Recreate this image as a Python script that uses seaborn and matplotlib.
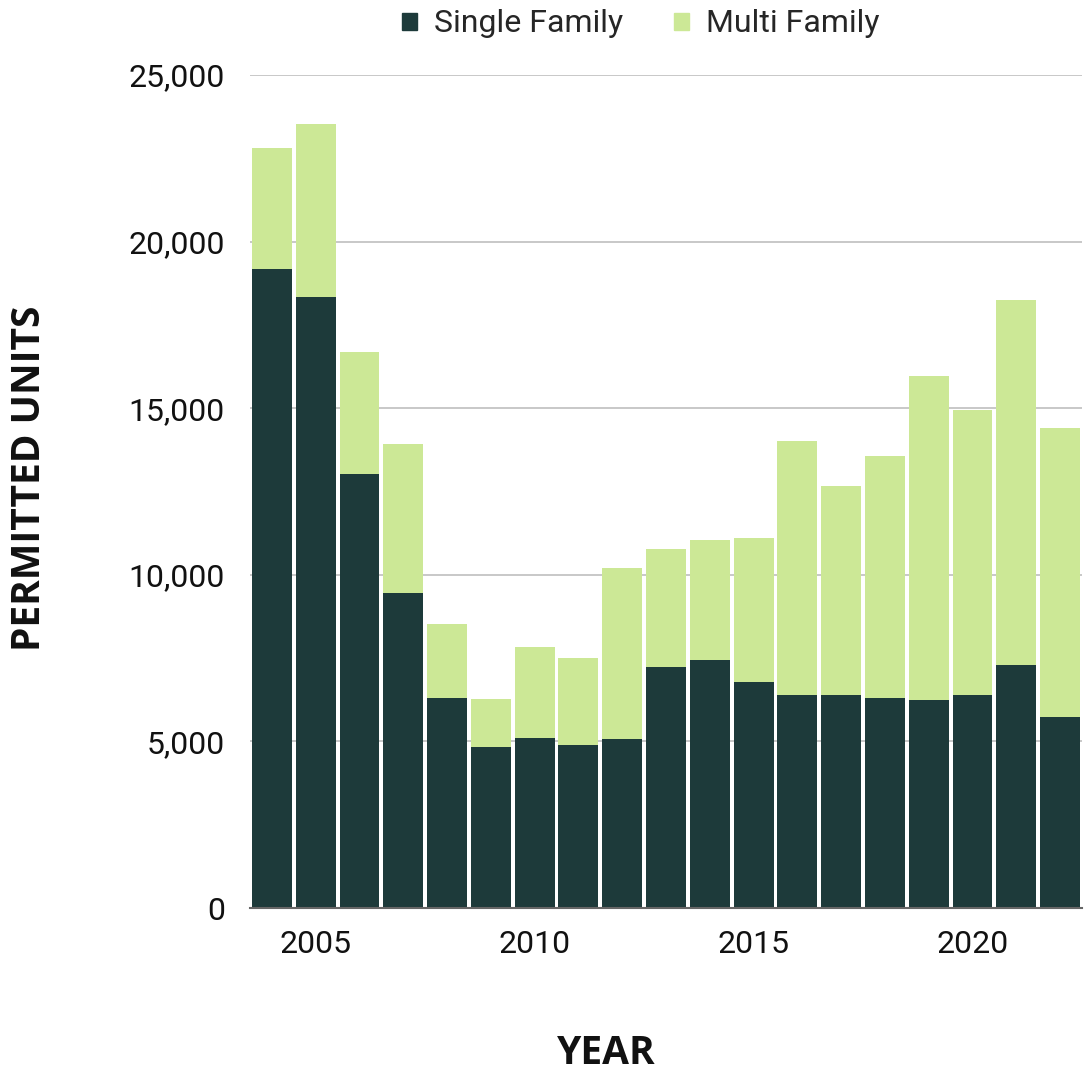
import matplotlib
matplotlib.use("Agg")
import matplotlib.pyplot as plt
import seaborn as sns
import pandas as pd
import numpy as np
from matplotlib.ticker import FuncFormatter
from matplotlib.patches import Patch

years = list(range(2004, 2023))
single_family = [19180, 18340, 13020, 9450, 6300, 4830, 5100, 4890, 5070, 7230,
                 7440, 6780, 6390, 6390, 6300, 6240, 6390, 7290, 5730]
total_units = [22810, 23530, 16690, 13930, 8520, 6270, 7830, 7500, 10200, 10770,
               11040, 11100, 14020, 12670, 13570, 15970, 14950, 18250, 14410]
multi_family = [t - s for t, s in zip(total_units, single_family)]
tick_years = [2005, 2010, 2015, 2020]
y_ticks = [0, 5000, 10000, 15000, 20000, 25000]

dark = "#1d3a3a"
light = "#cce896"

df = pd.DataFrame({"year": years, "single": single_family, "total": total_units})

sns.set_theme(style="white")
plt.rcParams["font.family"] = ["Roboto", "DejaVu Sans"]

fig = plt.figure(figsize=(10.9, 10.78), dpi=100)
ax = fig.add_axes([250/1090, 1 - 908/1078, (1082-250)/1090, (908-75)/1078])

sns.barplot(data=df, x="year", y="total", color=light, width=0.91, ax=ax,
            saturation=1, linewidth=0)
sns.barplot(data=df, x="year", y="single", color=dark, width=0.91, ax=ax,
            saturation=1, linewidth=0)

ax.set_ylim(0, 25000)
ax.set_xlim(-0.5, len(years) - 0.5)
ax.set_yticks(y_ticks)
ax.yaxis.set_major_formatter(FuncFormatter(lambda v, p: f"{int(v):,}"))
ax.set_xticks([years.index(y) for y in tick_years])
ax.set_xticklabels([str(y) for y in tick_years])
ax.tick_params(axis="both", labelsize=23, colors="#111111", length=0)
ax.tick_params(axis="x", pad=16)
ax.tick_params(axis="y", pad=18)

ax.grid(axis="y", color="#c4c4c4", linewidth=1.3)
ax.set_axisbelow(True)
for s in ["left", "right", "top"]:
    ax.spines[s].set_visible(False)
ax.spines["bottom"].set_color("#666666")
ax.spines["bottom"].set_linewidth(1.5)

ax.set_xlabel("")
ax.set_ylabel("")
fig.text(606/1090, 1 - 1054/1078, "YEAR", fontsize=28, fontweight="bold",
         family=["Open Sans", "DejaVu Sans"], ha="center", va="center", color="#111111")
fig.text(30/1090, 1 - 478/1078, "PERMITTED UNITS", fontsize=28, fontweight="bold",
         family=["Open Sans", "DejaVu Sans"], ha="center", va="center",
         rotation=90, color="#111111")

handles = [Patch(color=dark, label="Single Family"), Patch(color=light, label="Multi Family")]
fig.legend(handles=handles, loc="center", bbox_to_anchor=(641/1090, 1 - 24/1078), ncol=2,
           frameon=False, fontsize=23, handlelength=0.45, handleheight=0.45,
           columnspacing=1.6, handletextpad=0.55)

fig.savefig("out.png", dpi=100)
